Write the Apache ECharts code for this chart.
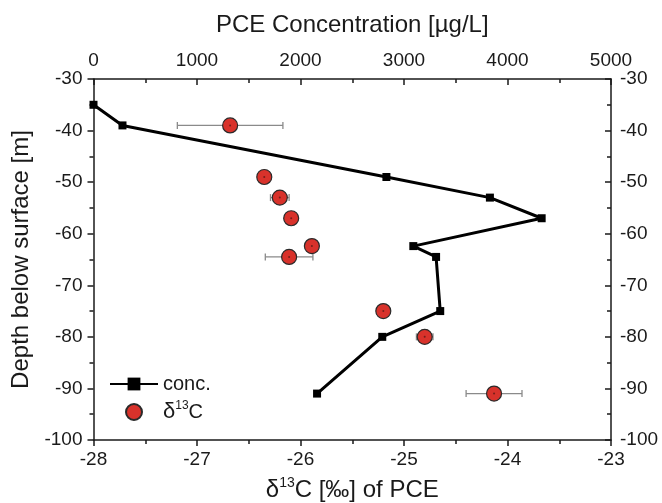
<!DOCTYPE html>
<html>
<head>
<meta charset="utf-8">
<script src="https://cdn.jsdelivr.net/npm/echarts@6/dist/echarts.min.js"></script>
<style>
  html, body { margin: 0; padding: 0; background: #fff; }
  #chart { width: 662px; height: 503px; }
</style>
</head>
<body>
<div id="chart"></div>
<script>
// PCE concentration profile (top axis, µg/L) against depth (m)
const concDepth = [-35, -39, -49, -53, -57, -62.4, -64.5, -75, -80, -91];
const concValue = [0, 280, 2830, 3830, 4330, 3090, 3310, 3350, 2790, 2160];

// δ13C of PCE (bottom axis, ‰) with its uncertainty
const isoDepth = [-39, -49, -53, -57, -62.4, -64.5, -75, -80, -91];
const isoValue = [-26.68, -26.35, -26.2, -26.09, -25.89, -26.11, -25.2, -24.8, -24.13];
const isoError = [0.51, 0, 0.09, 0.03, 0.05, 0.23, 0, 0.08, 0.27];

// axis ranges
const isoRange = [-28, -23];
const concRange = [0, 5000];
const depthRange = [-100, -30];

const FONT = 'Liberation Sans, Arial, sans-serif';
const INK = '#1a1a1a';

const concData = concValue.map((c, i) => [c, concDepth[i]]);
const isoData = isoValue.map((v, i) => [v, isoDepth[i]]);
const errData = isoValue.map((v, i) => [v - isoError[i], isoDepth[i], v + isoError[i]]);

const axisLineStyle = { show: true, onZero: false, lineStyle: { color: INK, width: 1.5 } };
const plain = v => String(v);

function valueAxis(extra) {
  return Object.assign({
    type: 'value',
    axisLine: axisLineStyle,
    splitLine: { show: false },
    nameTextStyle: { color: INK, fontSize: 24, fontFamily: FONT }
  }, extra);
}

function tickLabels(margin) {
  return { color: INK, fontSize: 19, fontFamily: FONT, margin, formatter: plain };
}

const subRich = {
  d: { fontSize: 24, fontFamily: FONT, color: INK, lineHeight: 28 },
  s: { fontSize: 14, fontFamily: FONT, color: INK, lineHeight: 14, verticalAlign: 'top' },
  t: { fontSize: 24, fontFamily: FONT, color: INK, lineHeight: 28 }
};

const chart = echarts.init(document.getElementById('chart'), null, { renderer: 'canvas' });

chart.setOption({
  animation: false,
  backgroundColor: '#fff',
  grid: { left: 93.5, right: 51, top: 79, bottom: 63, containLabel: false, outerBoundsMode: 'none' },
  legend: {
    orient: 'vertical',
    left: 104,
    top: 369,
    itemGap: 6,
    itemWidth: 48,
    itemHeight: 16,
    data: ['conc.', 'd13C'],
    formatter: name => name === 'd13C' ? '{d|δ}{s|13}{t|C}' : '{t|' + name + '}',
    textStyle: { color: INK, fontSize: 20, fontFamily: FONT, rich: {
      d: { fontSize: 22, fontFamily: FONT, color: INK, lineHeight: 24 },
      s: { fontSize: 12, fontFamily: FONT, color: INK, lineHeight: 12, verticalAlign: 'top' },
      t: { fontSize: 20, fontFamily: FONT, color: INK, lineHeight: 24 }
    } }
  },
  xAxis: [
    valueAxis({
      position: 'bottom',
      min: isoRange[0], max: isoRange[1], interval: 1,
      axisTick: { show: true, inside: false, length: 6, lineStyle: { color: INK, width: 1.5 } },
      minorTick: { show: true, splitNumber: 2, length: 4, lineStyle: { color: INK, width: 1.5 } },
      axisLabel: tickLabels(10),
      name: '{d|δ}{s|13}{t|C [‰] of PCE}',
      nameLocation: 'middle',
      nameGap: 36,
      nameTextStyle: { rich: subRich }
    }),
    valueAxis({
      position: 'top',
      min: concRange[0], max: concRange[1], interval: 1000,
      axisTick: { show: true, inside: true, length: 6, lineStyle: { color: INK, width: 1.5 } },
      minorTick: { show: true, splitNumber: 2, length: 4, lineStyle: { color: INK, width: 1.5 } },
      axisLabel: tickLabels(9),
      name: 'PCE Concentration [µg/L]',
      nameLocation: 'middle',
      nameGap: 42
    })
  ],
  yAxis: [
    valueAxis({
      position: 'left',
      min: depthRange[0], max: depthRange[1], interval: 10,
      axisTick: { show: true, inside: false, length: 6, lineStyle: { color: INK, width: 1.5 } },
      minorTick: { show: true, splitNumber: 2, length: 4, lineStyle: { color: INK, width: 1.5 } },
      axisLabel: tickLabels(11),
      name: 'Depth below surface [m]',
      nameLocation: 'middle',
      nameGap: 59
    }),
    valueAxis({
      position: 'right',
      min: depthRange[0], max: depthRange[1], interval: 10,
      axisTick: { show: true, inside: true, length: 6, lineStyle: { color: INK, width: 1.5 } },
      minorTick: { show: true, splitNumber: 2, length: 4, lineStyle: { color: INK, width: 1.5 } },
      axisLabel: tickLabels(9)
    })
  ],
  series: [
    {
      name: 'conc.',
      type: 'line',
      xAxisIndex: 1,
      yAxisIndex: 0,
      data: concData,
      symbol: 'rect',
      symbolSize: 8,
      lineStyle: { color: '#000', width: 3 },
      itemStyle: { color: '#000' },
      z: 3
    },
    {
      name: 'd13C-error',
      type: 'custom',
      xAxisIndex: 0,
      yAxisIndex: 0,
      data: errData,
      encode: { x: [0, 2], y: 1 },
      z: 4,
      silent: true,
      renderItem: (params, api) => {
        const lo = api.value(0), hi = api.value(2), y = api.value(1);
        if (hi - lo <= 0) return null;
        const a = api.coord([lo, y]);
        const b = api.coord([hi, y]);
        const style = { stroke: '#8a8a8a', lineWidth: 1.3 };
        const cap = 3.5;
        return {
          type: 'group',
          children: [
            { type: 'line', shape: { x1: a[0], y1: a[1], x2: b[0], y2: b[1] }, style },
            { type: 'line', shape: { x1: a[0], y1: a[1] - cap, x2: a[0], y2: a[1] + cap }, style },
            { type: 'line', shape: { x1: b[0], y1: b[1] - cap, x2: b[0], y2: b[1] + cap }, style }
          ]
        };
      }
    },
    {
      name: 'd13C',
      type: 'scatter',
      xAxisIndex: 0,
      yAxisIndex: 0,
      data: isoData,
      symbol: 'circle',
      symbolSize: 15,
      itemStyle: { color: '#d8322b', borderColor: '#2a2a2a', borderWidth: 1.2, opacity: 1 },
      z: 5
    },
    {
      name: 'd13C-centre',
      type: 'scatter',
      xAxisIndex: 0,
      yAxisIndex: 0,
      data: isoData,
      symbol: 'circle',
      symbolSize: 2,
      silent: true,
      itemStyle: { color: '#5a1a16' },
      z: 6
    }
  ]
});
</script>
</body>
</html>
